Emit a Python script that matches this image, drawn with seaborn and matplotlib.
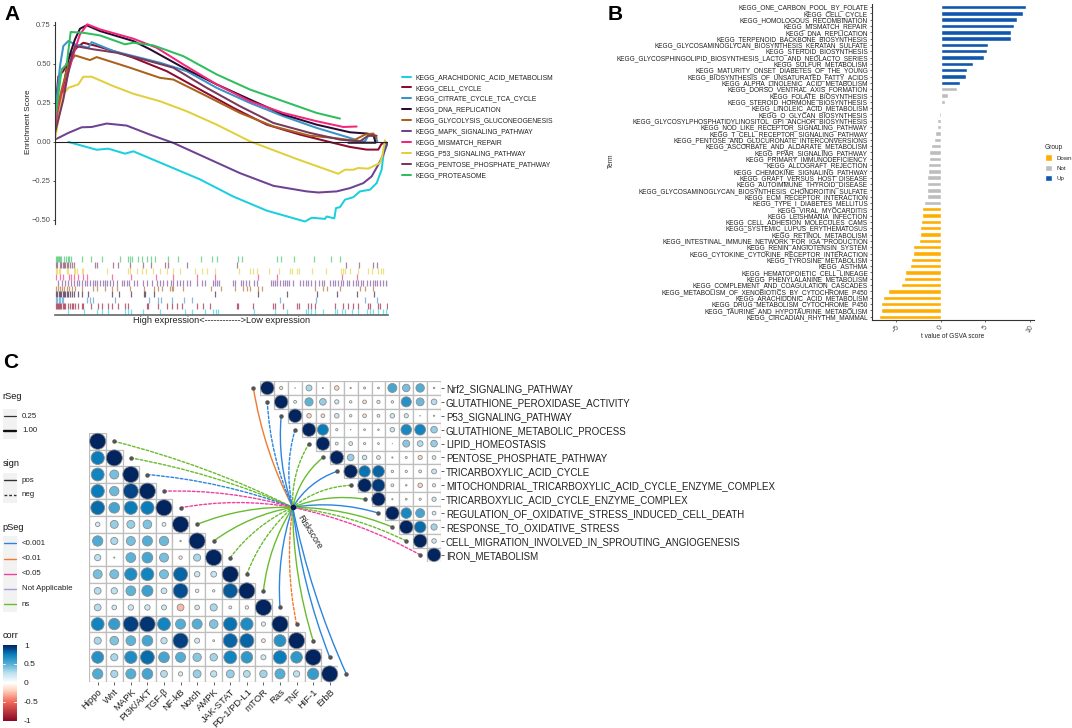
import numpy as np
import pandas as pd
import matplotlib
matplotlib.use('Agg')
import matplotlib.pyplot as plt
import seaborn as sns
from matplotlib.cm import ScalarMappable
from matplotlib.colors import LinearSegmentedColormap, Normalize
from matplotlib.patches import FancyArrowPatch, Rectangle

# panel A: running enrichment score, x is rank per mille
gsea_names = ['KEGG_ARACHIDONIC_ACID_METABOLISM', 'KEGG_CELL_CYCLE', 'KEGG_CITRATE_CYCLE_TCA_CYCLE',
              'KEGG_DNA_REPLICATION', 'KEGG_GLYCOLYSIS_GLUCONEOGENESIS', 'KEGG_MAPK_SIGNALING_PATHWAY',
              'KEGG_MISMATCH_REPAIR', 'KEGG_P53_SIGNALING_PATHWAY', 'KEGG_PENTOSE_PHOSPHATE_PATHWAY',
              'KEGG_PROTEASOME']
gsea_colors = ['#1CCFDD', '#8E0B2E', '#3B93C8', '#2B0A33', '#A9611C', '#6E4292', '#F3277A', '#E2CF3C', '#763A5C', '#2EBE5E']

arachidonic_x = [40, 125, 160, 210, 235, 335, 435, 535, 635, 750, 770, 810, 815, 838, 843, 855, 870, 895, 915, 945, 965, 980, 985, 993]
arachidonic_y = [0, -.05, -.043, -.075, -.06, -.15, -.24, -.35, -.44, -.51, -.486, -.493, -.478, -.49, -.424, -.418, -.37, -.354, -.317, -.306, -.264, -.178, -.09, 0]
cell_cycle_x = [0, 10, 25, 45, 65, 85, 125, 175, 235, 335, 435, 535, 635, 735, 835, 885, 935, 970, 980, 995]
cell_cycle_y = [.19, .42, .454, .55, .604, .636, .615, .583, .54, .454, .336, .219, .111, .047, -.006, -.032, -.049, -.049, -.011, -.006]
citrate_x = [0, 15, 25, 40, 60, 100, 110, 175, 255, 315, 395, 485, 585, 685, 785, 885, 915, 930, 940, 960, 967]
citrate_y = [.165, .486, .615, .647, .626, .604, .64, .583, .54, .508, .454, .347, .25, .165, .09, .026, .004, .004, .04, .04, .004]
dna_x = [0, 20, 40, 60, 75, 95, 135, 235, 285, 385, 485, 585, 685, 785, 885, 935, 955, 962, 880]
dna_y = [.1, .29, .53, .658, .726, .748, .711, .647, .594, .476, .369, .272, .176, .111, .062, .054, .047, -.005, -.005]
glycolysis_x = [0, 20, 40, 60, 105, 125, 225, 315, 355, 455, 555, 655, 765, 835, 895, 930, 955, 965]
glycolysis_y = [.165, .336, .497, .555, .525, .544, .476, .411, .4, .294, .186, .1, .04, .026, .009, .047, .054, .026]
mapk_x = [0, 40, 80, 110, 155, 215, 285, 355, 455, 555, 655, 755, 790, 845, 885, 925, 950, 970, 985, 998]
mapk_y = [.015, .058, .094, .096, .118, .105, .047, -.006, -.103, -.2, -.281, -.317, -.324, -.317, -.296, -.264, -.221, -.146, -.081, -.006]
mismatch_x = [0, 20, 40, 60, 75, 97, 135, 235, 305, 385, 485, 585, 685, 785, 865, 905]
mismatch_y = [.1, .29, .444, .594, .69, .754, .722, .662, .604, .497, .369, .261, .186, .133, .096, .099]
p53_x = [0, 15, 25, 40, 70, 85, 110, 175, 235, 315, 395, 485, 585, 725, 850, 870, 895, 910, 940, 975, 982, 990]
p53_y = [.015, .208, .304, .347, .369, .418, .418, .358, .309, .261, .197, .111, .004, -.109, -.204, -.178, -.178, -.167, -.171, -.135, -.09, .011]
pentose_x = [0, 25, 45, 60, 115, 185, 265, 355, 455, 555, 655, 765, 855, 915, 940, 965]
pentose_y = [.058, .272, .508, .615, .594, .572, .529, .476, .347, .229, .122, .058, .015, .004, .04, .04]
proteasome_x = [0, 20, 35, 47, 85, 135, 210, 235, 295, 385, 485, 585, 685, 785, 855]
proteasome_y = [.144, .465, .497, .705, .7, .683, .626, .636, .619, .55, .433, .336, .261, .186, .15]

gsea_x = [arachidonic_x, cell_cycle_x, citrate_x, dna_x, glycolysis_x, mapk_x, mismatch_x, p53_x, pentose_x, proteasome_x]
gsea_y = [arachidonic_y, cell_cycle_y, citrate_y, dna_y, glycolysis_y, mapk_y, mismatch_y, p53_y, pentose_y, proteasome_y]

# gene hits per set, listed top to bottom as in the rug
rug_order = [9, 8, 7, 6, 5, 4, 3, 2, 1, 0]
hits_proteasome = [2, 5, 8, 11, 15, 19, 28, 32, 38, 42, 47, 82, 108, 142, 195, 218, 225, 232, 248, 260, 275, 288, 300, 340, 370, 438, 470, 487, 548, 560, 665, 678, 717, 777, 829, 856]
hits_pentose = [2, 7, 15, 19, 23, 27, 31, 35, 40, 45, 50, 57, 120, 125, 173, 188, 225, 265, 287, 329, 340, 395, 545, 873, 913, 955, 965]
hits_p53 = [3, 7, 11, 15, 35, 40, 57, 61, 67, 80, 85, 157, 220, 225, 245, 260, 273, 293, 315, 335, 355, 375, 420, 442, 457, 480, 552, 585, 595, 605, 643, 673, 705, 712, 725, 733, 770, 813, 857, 863, 870, 885, 910, 940, 950, 970, 977, 985]
hits_mismatch = [2, 15, 25, 42, 47, 57, 70, 85, 95, 170, 227, 303, 353, 425, 480, 608, 665, 862, 907]
hits_mapk = [10, 20, 30, 40, 47, 57, 67, 73, 80, 90, 97, 105, 113, 120, 127, 135, 143, 151, 157, 165, 175, 185, 200, 207, 215, 223, 238, 245, 263, 277, 290, 305, 315, 325, 335, 347, 355, 365, 375, 385, 395, 405, 425, 442, 450, 473, 480, 487, 493, 535, 541, 558, 565, 573, 583, 597, 607, 647, 653, 659, 665, 675, 685, 691, 697, 703, 715, 735, 743, 753, 760, 767, 780, 793, 800, 807, 825, 833, 841, 850, 857, 865, 875, 883, 893, 903, 910, 917, 925, 935, 945, 953, 960, 967, 975, 985, 993, 999]
hits_glycolysis = [3, 10, 15, 21, 27, 35, 43, 50, 60, 80, 115, 125, 150, 170, 185, 225, 267, 297, 310, 320, 345, 350, 355, 385, 467, 497, 540, 565, 575, 585, 610, 620, 780, 805, 817, 855, 915, 930, 955]
hits_dna = [3, 7, 11, 15, 19, 23, 27, 31, 35, 40, 45, 50, 57, 70, 80, 100, 170, 193, 228, 267, 270, 297, 480, 608, 695, 785, 845, 907, 957]
hits_citrate = [3, 7, 11, 15, 21, 25, 97, 105, 113, 180, 282, 310, 317, 350, 388, 410, 675, 783, 930, 965]
hits_cell_cycle = [2, 5, 8, 11, 15, 19, 23, 27, 31, 40, 45, 50, 55, 60, 70, 80, 85, 108, 128, 140, 158, 172, 190, 210, 220, 275, 280, 310, 335, 350, 365, 382, 425, 445, 465, 545, 550, 595, 655, 660, 685, 725, 732, 760, 767, 780, 840, 865, 880, 895, 910, 940, 945, 970, 975, 995]
hits_arachidonic = [38, 87, 125, 140, 160, 210, 220, 228, 265, 315, 390, 410, 450, 475, 483, 490, 597, 660, 697, 752, 760, 767, 780, 803, 840, 847, 860, 870, 890, 910, 935, 945, 953, 970, 985, 993, 999]
rug_hits = [hits_proteasome, hits_pentose, hits_p53, hits_mismatch, hits_mapk, hits_glycolysis, hits_dna, hits_citrate, hits_cell_cycle, hits_arachidonic]

# panel B
gsva_terms = ['ONE_CARBON_POOL_BY_FOLATE', 'CELL_CYCLE', 'HOMOLOGOUS_RECOMBINATION', 'MISMATCH_REPAIR', 'DNA_REPLICATION',
              'TERPENOID_BACKBONE_BIOSYNTHESIS', 'GLYCOSAMINOGLYCAN_BIOSYNTHESIS_KERATAN_SULFATE', 'STEROID_BIOSYNTHESIS',
              'GLYCOSPHINGOLIPID_BIOSYNTHESIS_LACTO_AND_NEOLACTO_SERIES', 'SULFUR_METABOLISM', 'MATURITY_ONSET_DIABETES_OF_THE_YOUNG',
              'BIOSYNTHESIS_OF_UNSATURATED_FATTY_ACIDS', 'ALPHA_LINOLENIC_ACID_METABOLISM', 'DORSO_VENTRAL_AXIS_FORMATION',
              'FOLATE_BIOSYNTHESIS', 'STEROID_HORMONE_BIOSYNTHESIS', 'LINOLEIC_ACID_METABOLISM', 'O_GLYCAN_BIOSYNTHESIS',
              'GLYCOSYLPHOSPHATIDYLINOSITOL_GPI_ANCHOR_BIOSYNTHESIS', 'NOD_LIKE_RECEPTOR_SIGNALING_PATHWAY', 'T_CELL_RECEPTOR_SIGNALING_PATHWAY',
              'PENTOSE_AND_GLUCURONATE_INTERCONVERSIONS', 'ASCORBATE_AND_ALDARATE_METABOLISM', 'PPAR_SIGNALING_PATHWAY',
              'PRIMARY_IMMUNODEFICIENCY', 'ALLOGRAFT_REJECTION', 'CHEMOKINE_SIGNALING_PATHWAY', 'GRAFT_VERSUS_HOST_DISEASE',
              'AUTOIMMUNE_THYROID_DISEASE', 'GLYCOSAMINOGLYCAN_BIOSYNTHESIS_CHONDROITIN_SULFATE', 'ECM_RECEPTOR_INTERACTION',
              'TYPE_I_DIABETES_MELLITUS', 'VIRAL_MYOCARDITIS', 'LEISHMANIA_INFECTION', 'CELL_ADHESION_MOLECULES_CAMS',
              'SYSTEMIC_LUPUS_ERYTHEMATOSUS', 'RETINOL_METABOLISM', 'INTESTINAL_IMMUNE_NETWORK_FOR_IGA_PRODUCTION',
              'RENIN_ANGIOTENSIN_SYSTEM', 'CYTOKINE_CYTOKINE_RECEPTOR_INTERACTION', 'TYROSINE_METABOLISM', 'ASTHMA',
              'HEMATOPOIETIC_CELL_LINEAGE', 'PHENYLALANINE_METABOLISM', 'COMPLEMENT_AND_COAGULATION_CASCADES',
              'METABOLISM_OF_XENOBIOTICS_BY_CYTOCHROME_P450', 'ARACHIDONIC_ACID_METABOLISM', 'DRUG_METABOLISM_CYTOCHROME_P450',
              'TAURINE_AND_HYPOTAURINE_METABOLISM', 'CIRCADIAN_RHYTHM_MAMMAL']
gsva_t = [9.6, 9.2, 8.5, 8.25, 7.87, 7.84, 5.34, 5.22, 4.89, 3.62, 2.91, 2.84, 2.2, 1.83, .86, .45, -.04, -.19, -.41, -.45,
          -.6, -.71, -1.12, -1.27, -1.31, -1.38, -1.45, -1.5, -1.5, -1.5, -1.57, -1.83, -2.05, -2.13, -2.2, -2.28, -2.35, -2.46,
          -3.06, -3.1, -3.36, -3.47, -3.96, -4.1, -4.44, -5.9, -6.42, -6.64, -6.68, -6.87]
gsva_group = ['Up'] * 13 + ['Not'] * 19 + ['Down'] * 18

# panel C, lower triangle
path_names = ['Hippo', 'Wnt', 'MAPK', 'PI3K/AKT', 'TGF-β', 'NF-kB', 'Notch', 'AMPK', 'JAK-STAT', 'PD-1/PD-L1', 'mTOR', 'Ras', 'TNF', 'HIF-1', 'ErbB']
path_corr = [[1],
             [.75, 1],
             [.72, .42, 1],
             [.75, .45, .9, 1],
             [.8, .55, .75, .75, 1],
             [.15, .35, .35, .4, .12, 1],
             [.52, .3, .42, .5, .45, .03, 1],
             [.25, .02, .48, .55, .42, -.1, .3, 1],
             [.42, .42, .68, .72, .42, .82, .2, .22, 1],
             [.28, .25, .48, .58, .22, .88, .1, .06, .85, 1],
             [.28, .16, .2, .2, .18, -.28, .16, .3, -.08, -.1, 1],
             [.72, .6, .92, .95, .72, .5, .5, .4, .78, .68, .14, 1],
             [.3, .4, .48, .55, .25, .92, .18, .04, .82, .82, -.12, .65, 1],
             [.65, .3, .68, .8, .55, .5, .38, .32, .72, .62, .18, .75, .62, 1],
             [.52, .3, .5, .55, .28, .14, .35, .25, .35, .28, .32, .5, .25, .6, 1]]
path_p = ['ns', 'ns', '<0.001', '<0.05', '<0.05', 'ns', 'ns', 'ns', 'ns', 'ns', '<0.001', '<0.01', 'ns', '<0.001', '<0.001']
path_sign = ['neg', 'neg', 'neg', 'neg', 'neg', 'pos', 'pos', 'neg', 'neg', 'pos', 'pos', 'neg', 'pos', 'pos', 'pos']

# panel C, upper triangle
redox_names = ['Nrf2_SIGNALING_PATHWAY', 'GLUTATHIONE_PEROXIDASE_ACTIVITY', 'P53_SIGNALING_PATHWAY', 'GLUTATHIONE_METABOLIC_PROCESS',
               'LIPID_HOMEOSTASIS', 'PENTOSE_PHOSPHATE_PATHWAY', 'TRICARBOXYLIC_ACID_CYCLE', 'MITOCHONDRIAL_TRICARBOXYLIC_ACID_CYCLE_ENZYME_COMPLEX',
               'TRICARBOXYLIC_ACID_CYCLE_ENZYME_COMPLEX', 'REGULATION_OF_OXIDATIVE_STRESS_INDUCED_CELL_DEATH', 'RESPONSE_TO_OXIDATIVE_STRESS',
               'CELL_MIGRATION_INVOLVED_IN_SPROUTING_ANGIOGENESIS', 'IRON_METABOLISM']
redox_corr = [[1, -.12, .01, .3, .02, -.2, .03, -.06, -.05, .55, .42, .5, .04],
              [1, .1, .48, .35, .18, -.08, -.15, -.12, .08, .65, .45, .28],
              [1, -.2, -.15, .2, .08, -.15, -.1, .2, .18, .01, .03],
              [1, .75, -.07, .01, .05, .04, .2, .7, .72, .35],
              [1, .1, .15, .07, .05, .005, .38, .28, .35],
              [1, .35, .2, .15, .03, .06, -.18, .15],
              [1, .78, .82, .08, .07, -.1, .22],
              [1, .93, -.1, .04, -.2, .12],
              [1, .03, .05, -.07, .18],
              [1, .7, .55, .15],
              [1, .8, .32],
              [1, .2],
              [1]]
redox_p = ['<0.01', '<0.001', '<0.001', '<0.001', 'ns', 'ns', '<0.001', 'ns', 'ns', '<0.001', 'ns', 'ns', '<0.05']
redox_sign = ['pos', 'neg', 'pos', 'neg', 'neg', 'pos', 'pos', 'neg', 'pos', 'pos', 'pos', 'neg', 'neg']

W, H = 1072, 728
P_COLORS = {'<0.001': '#2C85DE', '<0.01': '#F07A2E', '<0.05': '#F03FA2', 'Not Applicable': '#A99AD8', 'ns': '#68BC2E'}
corr_cmap = LinearSegmentedColormap.from_list('corr', [(0, '#8B0A26'), (.25, '#F26B5B'), (.4, '#FFD4C0'), (.5, '#FFFFFF'),
                                                       (.625, '#BFE2F0'), (.75, '#55AFD6'), (.875, '#0B7FBC'), (.95, '#03468A'), (1, '#03255F')])

sns.set_style('white')
plt.rcParams['font.family'] = ['Liberation Sans', 'DejaVu Sans']
fig = plt.figure(figsize=(W / 100, H / 100), dpi=100)


def add_axes_px(left, top, right, bottom):
    return fig.add_axes([left / W, 1 - bottom / H, (right - left) / W, (bottom - top) / H])


# ---- A
ax_a = add_axes_px(55, 22, 388.3, 224)
gsea_df = pd.concat([pd.DataFrame({'rank': x, 'es': y, 'set': name}) for x, y, name in zip(gsea_x, gsea_y, gsea_names)])
sns.lineplot(data=gsea_df, x='rank', y='es', hue='set', hue_order=gsea_names, palette=dict(zip(gsea_names, gsea_colors)),
             sort=False, estimator=None, linewidth=1.45, ax=ax_a)
ax_a.axhline(0, color='#222222', lw=0.8, zorder=5)
ax_a.set_xlim(0, 1000)
ax_a.set_ylim(-.526, .769)
ax_a.set_yticks([-.5, -.25, 0, .25, .5, .75], ['−0.50', '−0.25', '0.00', '0.25', '0.50', '0.75'])
ax_a.set_xticks([])
ax_a.set_xlabel('')
ax_a.set_ylabel('')
for side in ['top', 'right', 'bottom']:
    ax_a.spines[side].set_visible(False)
ax_a.spines['left'].set_color('#333333')
ax_a.spines['left'].set_linewidth(0.8)
ax_a.tick_params(axis='y', left=True, length=1.5, width=0.6, labelsize=5.4, labelcolor='#4d4d4d', pad=1.5, color='#333333')
fig.text(28 / W, 1 - 122 / H, 'Enrichment Score', rotation=90, ha='center', va='center', fontsize=5.9, color='#222222')
handles, labels = ax_a.get_legend_handles_labels()
ax_a.get_legend().remove()
fig.legend(handles, labels, loc='upper left', bbox_to_anchor=(401.7 / W, 1 - 74 / H), frameon=False, fontsize=4.9,
           handlelength=1.32, handletextpad=0.73, labelspacing=0.57, labelcolor='#222222', borderaxespad=0, borderpad=0)

ax_rug = add_axes_px(55, 256, 388.3, 315)
for row, (hits, idx) in enumerate(zip(rug_hits, rug_order)):
    ax_rug.vlines(hits, row, row + 1, color=gsea_colors[idx], alpha=0.62, lw=0.9)
ax_rug.set_xlim(0, 1000)
ax_rug.set_ylim(10, 0)
ax_rug.set_xticks([])
ax_rug.set_yticks([])
for side in ['top', 'right', 'left']:
    ax_rug.spines[side].set_visible(False)
ax_rug.spines['bottom'].set_color('#666666')
ax_rug.spines['bottom'].set_linewidth(1.2)
fig.text(222 / W, 1 - 320.5 / H, 'High expression<------------>Low expression', ha='center', va='center', fontsize=6.6, color='#222222')

# ---- B
ax_b = add_axes_px(871.7, 3.85, 1034, 319.9)
gsva_df = pd.DataFrame({'term': ['KEGG_' + t for t in gsva_terms], 't': gsva_t, 'Group': gsva_group})
sns.barplot(data=gsva_df, y='term', x='t', hue='Group', hue_order=['Down', 'Not', 'Up'], dodge=False, width=0.7,
            palette={'Down': '#FFAE00', 'Not': '#BDBDBD', 'Up': '#0F57AE'}, ax=ax_b, saturation=1)
ax_b.set_xlim(-7.73, 10.45)
ax_b.set_ylim(49.5, -.5)
ax_b.set_xticks([-5, 0, 5, 10], ['−5', '0', '5', '10'])
ax_b.tick_params(axis='x', bottom=True, length=1.5, width=0.5, labelsize=5, labelrotation=60, labelcolor='#4d4d4d', pad=1.5, color='#333333')
ax_b.tick_params(axis='y', left=True, length=1.5, width=0.5, labelsize=4.7, labelcolor='#222222', pad=1.2, color='#333333')
ax_b.set_xlabel('')
ax_b.set_ylabel('')
for side in ['top', 'right']:
    ax_b.spines[side].set_visible(False)
for side in ['left', 'bottom']:
    ax_b.spines[side].set_color('#333333')
    ax_b.spines[side].set_linewidth(0.8)
fig.text(952.7 / W, 1 - 336.7 / H, 't value of GSVA score', ha='center', va='center', fontsize=4.7, color='#222222')
fig.text(611 / W, 1 - 161 / H, 'Term', rotation=90, ha='center', va='center', fontsize=4.7, color='#222222')
sns.move_legend(ax_b, loc='upper left', bbox_to_anchor=(1044.5 / W, 1 - 144 / H), bbox_transform=fig.transFigure, frameon=False,
                title='Group', title_fontsize=4.7, fontsize=4.4, handlelength=1.3, handleheight=1.3, labelspacing=0.56, handletextpad=0.65,
                borderaxespad=0, borderpad=0, alignment='left')


# ---- C
def draw_triangle(ax, names, corr, lower):
    n = len(names)
    rows = []
    for i, vals in enumerate(corr):
        for k, r in enumerate(vals):
            col = k if lower else i + k
            ax.add_patch(Rectangle((col - .5, i - .5), 1, 1, fc='white', ec='#BEBEBE', lw=0.9, zorder=1))
            rows.append({'col': col, 'row': i, 'r': r, 'size': abs(r) ** 1.35})
    cells = pd.DataFrame(rows)
    max_s = (ax.get_position().width * W / n * 0.72 * 0.97) ** 2
    sns.scatterplot(data=cells, x='col', y='row', hue='r', hue_norm=(-1, 1), palette=corr_cmap, size='size', size_norm=(0, 1),
                    sizes=(0, max_s), edgecolor='#8c8c8c', linewidth=0.6, legend=False, ax=ax, zorder=2, clip_on=False)
    ax.set_xlim(-.5, n - .5)
    ax.set_ylim(n - .5, -.5)
    ax.set_xlabel('')
    ax.set_ylabel('')
    for spine in ax.spines.values():
        spine.set_visible(False)


ax_low = add_axes_px(89.4, 433, 338, 682.2)
draw_triangle(ax_low, path_names, path_corr, True)
ax_low.set_yticks([])
ax_low.set_xticks(range(len(path_names)), path_names, rotation=45, ha='right', rotation_mode='anchor')
ax_low.tick_params(axis='x', bottom=True, length=2, width=0.6, labelsize=6.8, pad=1.5, color='#444444', labelcolor='#222222')

ax_up = add_axes_px(260.35, 381, 441, 561.8)
draw_triangle(ax_up, redox_names, redox_corr, False)
ax_up.set_xticks([])
ax_up.yaxis.tick_right()
ax_up.set_yticks(range(len(redox_names)), redox_names)
ax_up.tick_params(axis='y', right=True, left=False, length=2, width=0.6, labelsize=7, pad=1.5, color='#444444', labelcolor='#222222')

# links and legends go on a full figure overlay in pixel units
overlay = fig.add_axes([0, 0, 1, 1], zorder=5)
overlay.set_xlim(0, W)
overlay.set_ylim(H, 0)
overlay.axis('off')
overlay.patch.set_alpha(0)
hub = (292.7, 507.3)


def to_overlay(ax, x, y):
    return overlay.transData.inverted().transform(ax.transData.transform((x, y)))


def draw_links(ax, anchors, p_vals, signs, bend):
    for (x, y), p, sign in zip(anchors, p_vals, signs):
        px, py = to_overlay(ax, x, y)
        rad = bend / np.hypot(px - hub[0], py - hub[1])
        style = '-' if sign == 'pos' else (0, (2, 1.4))
        overlay.add_patch(FancyArrowPatch((px, py), hub, connectionstyle=f'arc3,rad={rad:.3f}', arrowstyle='-', color=P_COLORS[p],
                                          lw=1.0, linestyle=style, shrinkA=0, shrinkB=0, zorder=2))
        overlay.plot(px, py, 'o', ms=2.2, color='#555555', zorder=3)


draw_links(ax_low, [(i + 1, i) for i in range(len(path_names))], path_p, path_sign, -10)
draw_links(ax_up, [(i - 1, i) for i in range(len(redox_names))], redox_p, redox_sign, 10)
overlay.plot(*hub, 'o', ms=3, color='#06184F', zorder=4)
overlay.text(310, 532, 'Riskscore', rotation=-58, ha='center', va='center', rotation_mode='anchor', fontsize=6.3, color='#222222')

# legend blocks
key_bg = '#F2F2F2'


def legend_block(title, title_y, key_ys, labels, artists):
    overlay.text(2.5, title_y, title, fontsize=6.6, va='center', color='#111111')
    overlay.add_patch(Rectangle((2.5, key_ys[0] - 7.5), 14.5, key_ys[-1] - key_ys[0] + 15, fc=key_bg, ec='none', zorder=1))
    for y, lab, kw in zip(key_ys, labels, artists):
        overlay.plot([4, 16], [y, y], zorder=2, **kw)
        overlay.text(22, y, lab, fontsize=5.7, va='center', color='#222222')


legend_block('rSeg', 396.5, [416, 431], ['0.25', '1.00'], [{'color': '#333333', 'lw': 0.9}, {'color': '#111111', 'lw': 1.7}])
legend_block('sign', 463, [480, 495], ['pos', 'neg'], [{'color': '#333333', 'lw': 1}, {'color': '#333333', 'lw': 1, 'ls': (0, (2, 1.4))}])
p_levels = ['<0.001', '<0.01', '<0.05', 'Not Applicable', 'ns']
legend_block('pSeg', 527, [543.3, 558.5, 573.7, 589, 604], p_levels, [{'color': P_COLORS[p], 'lw': 1} for p in p_levels])
overlay.text(2.5, 636, 'corr', fontsize=6.6, va='center', color='#111111')

cax = add_axes_px(2.5, 645, 17, 720.5)
cbar = fig.colorbar(ScalarMappable(Normalize(-1, 1), corr_cmap), cax=cax)
cbar.set_ticks([-1, -.5, 0, .5, 1], labels=['-1', '-0.5', '0', '0.5', '1'])
cbar.ax.tick_params(length=0, labelsize=6.1, pad=5, labelcolor='#222222')
cbar.outline.set_visible(False)
for y in [-.5, 0, .5]:
    cax.plot([0, .2], [y, y], color='white', lw=0.6, transform=cax.get_yaxis_transform())
    cax.plot([.8, 1], [y, y], color='white', lw=0.6, transform=cax.get_yaxis_transform())

for letter, x, y in [('A', 4, 15), ('B', 608, 15), ('C', 3, 362)]:
    overlay.text(x, y, letter, fontsize=15, fontweight='bold', va='center', color='black')

fig.savefig('out.png', dpi=100)
